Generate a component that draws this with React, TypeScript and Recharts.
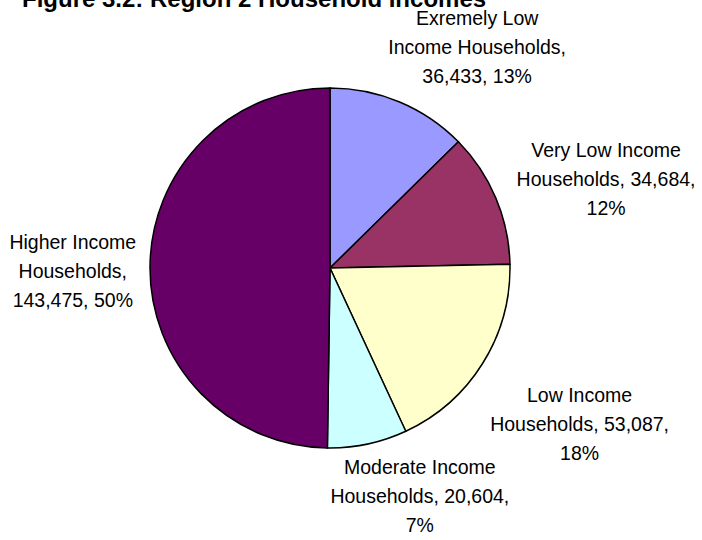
import React from 'react';
import { PieChart, Pie, Cell } from 'recharts';

const categories = [
  'Exremely Low Income Households',
  'Very Low Income Households',
  'Low Income Households',
  'Moderate Income Households',
  'Higher Income Households',
];
const households = [36433, 34684, 53087, 20604, 143475];
const colors = ['#9999FF', '#993366', '#FFFFCC', '#CCFFFF', '#660066'];

// label wrapping width (chars) and small position nudges, per slice
const wrapChars = [18, 19, 19, 19, 13];
const labelNudge = [
  [-6, 5],
  [10, 30],
  [-2, 8],
  [5, -9],
  [-2, 5],
];

const data = categories.map((name, i) => ({ name, value: households[i] }));

const FONT = '"Liberation Sans", Arial, sans-serif';
const RAD = Math.PI / 180;
const LINE_H = 29;

const wrap = (text: string, max: number) => {
  const words = text.split(' ');
  const lines: string[] = [];
  let cur = '';
  words.forEach((w) => {
    const next = cur ? `${cur} ${w}` : w;
    if (next.length > max && cur) {
      lines.push(cur);
      cur = w;
    } else {
      cur = next;
    }
  });
  if (cur) lines.push(cur);
  return lines;
};

const clamp = (v: number) => Math.max(-1, Math.min(1, v));

const renderLabel = (props: any) => {
  const { cx, cy, midAngle, outerRadius, index, value, percent } = props;
  const text = `${categories[index]}, ${value.toLocaleString('en-US')}, ${Math.round(percent * 100)}%`;
  const lines = wrap(text, wrapChars[index]);
  const cos = Math.cos(midAngle * RAD);
  const sin = Math.sin(midAngle * RAD);
  const r = outerRadius + 18;
  const ax = cx + r * cos;
  const ay = cy - r * sin;
  const w = Math.max(...lines.map((l) => l.length)) * 8.8;
  const h = lines.length * LINE_H;
  const x = ax + (w / 2) * clamp(cos * 2.5) + labelNudge[index][0];
  const y = ay - (h / 2) * clamp(sin * 2.5) + labelNudge[index][1];
  const top = y - ((lines.length - 1) * LINE_H) / 2;
  return (
    <text
      key={`lbl-${index}`}
      x={x}
      y={top}
      textAnchor="middle"
      fontFamily={FONT}
      fontSize={19.5}
      fill="#000"
    >
      {lines.map((l, i) => (
        <tspan key={i} x={x} y={top + i * LINE_H} dominantBaseline="central">
          {l}
        </tspan>
      ))}
    </text>
  );
};

export default function App() {
  return (
    <div style={{ position: 'absolute', left: 0, top: 0, width: 702, height: 540, background: '#fff' }}>
      <PieChart width={702} height={540} margin={{ top: 0, right: 0, bottom: 0, left: 0 }}>
        <Pie
          data={data}
          dataKey="value"
          nameKey="name"
          cx={330}
          cy={268}
          outerRadius={180}
          startAngle={90}
          endAngle={-270}
          stroke="#000"
          strokeWidth={1.5}
          label={renderLabel}
          labelLine={false}
          isAnimationActive={false}
        >
          {data.map((d, i) => (
            <Cell key={d.name} fill={colors[i]} />
          ))}
        </Pie>
      </PieChart>
      <svg width={702} height={30} style={{ position: 'absolute', left: 0, top: 0 }}>
        <text x={22} y={7} fontFamily={FONT} fontWeight="bold" fontSize={24} fill="#000">
          Figure 3.2: Region 2 Household Incomes
        </text>
      </svg>
    </div>
  );
}
